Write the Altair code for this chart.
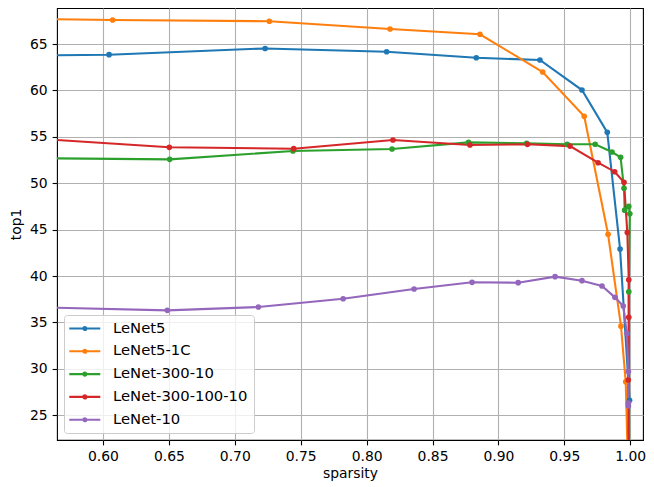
import altair as alt
import pandas as pd

series = ["LeNet5", "LeNet5-1C", "LeNet-300-10", "LeNet-300-100-10", "LeNet-10"]
colors = ["#1f77b4", "#ff7f0e", "#2ca02c", "#d62728", "#9467bd"]

lenet5_sparsity = [0.50, 0.6046, 0.723, 0.8152, 0.8832, 0.9315, 0.9634, 0.9826, 0.9923, 0.9995]
lenet5_top1 = [63.67, 63.85, 64.52, 64.17, 63.52, 63.28, 60.04, 55.48, 42.9, 26.6]

lenet5_1c_sparsity = [0.50, 0.6073, 0.7262, 0.8178, 0.886, 0.9336, 0.9651, 0.9832, 0.993, 0.9966, 1.0]
lenet5_1c_top1 = [67.77, 67.59, 67.45, 66.62, 66.05, 61.98, 57.21, 44.5, 34.6, 28.6, 10.0]

lenet300_10_sparsity = [0.50, 0.6506, 0.7441, 0.8193, 0.8773, 0.9214, 0.9522, 0.9734, 0.9862,
                        0.9927, 0.9953, 0.9958, 0.9989, 0.9997, 0.9989, 0.9995]
lenet300_10_top1 = [52.76, 52.57, 53.47, 53.69, 54.4, 54.3, 54.2, 54.2, 53.36,
                    52.79, 49.45, 47.1, 47.5, 46.7, 38.3, 10.0]

lenet300_100_10_sparsity = [0.50, 0.6503, 0.7447, 0.82, 0.8784, 0.922, 0.9543, 0.9756, 0.9882,
                            0.9953, 0.9978, 0.9989, 0.9989, 0.9985, 0.9992]
lenet300_100_10_top1 = [55.26, 53.87, 53.72, 54.66, 54.12, 54.19, 54.0, 52.21, 51.24,
                        50.1, 44.7, 39.6, 35.55, 28.8, 10.0]

lenet10_sparsity = [0.50, 0.6488, 0.7179, 0.7822, 0.836, 0.88, 0.915, 0.943, 0.9634, 0.9786,
                    0.9884, 0.9947, 0.9975, 0.9986, 0.9986, 0.9986]
lenet10_top1 = [36.8, 36.3, 36.66, 37.55, 38.6, 39.32, 39.28, 39.93, 39.5, 38.92,
                37.7, 36.77, 33.8, 29.7, 26.3, 26.0]

x_ticks = [0.60, 0.65, 0.70, 0.75, 0.80, 0.85, 0.90, 0.95, 1.00]
y_ticks = [25, 30, 35, 40, 45, 50, 55, 60, 65]

all_s = [lenet5_sparsity, lenet5_1c_sparsity, lenet300_10_sparsity, lenet300_100_10_sparsity, lenet10_sparsity]
all_t = [lenet5_top1, lenet5_1c_top1, lenet300_10_top1, lenet300_100_10_top1, lenet10_top1]

rows = []
for name, xs, ys in zip(series, all_s, all_t):
    for i, (x, y) in enumerate(zip(xs, ys)):
        rows.append({"model": name, "sparsity": x, "top1": y, "idx": i})
df = pd.DataFrame(rows)

legend_path = ("M-1.37,0L3.8,0"
               "M0.97,0A0.25,0.25 0 1,0 1.47,0A0.25,0.25 0 1,0 0.97,0"
               "M1.14,0A0.08,0.08 0 1,0 1.30,0A0.08,0.08 0 1,0 1.14,0")

FONT = "DejaVu Sans"

chart = alt.Chart(df).mark_line(
    strokeWidth=2.08, clip=True,
    point=alt.OverlayMarkDef(filled=True, size=32, clip=True, opacity=1),
).encode(
    x=alt.X("sparsity:Q",
            scale=alt.Scale(domain=[0.5651, 1.0097], nice=False, zero=False),
            axis=alt.Axis(values=x_ticks, format=".2f", title="sparsity")),
    y=alt.Y("top1:Q",
            scale=alt.Scale(domain=[22.33, 68.88], nice=False, zero=False),
            axis=alt.Axis(values=y_ticks, title="top1")),
    color=alt.Color("model:N",
                    scale=alt.Scale(domain=series, range=colors),
                    legend=alt.Legend(title=None, orient="bottom-left", offset=7,
                                      symbolType=legend_path, symbolSize=144,
                                      symbolStrokeWidth=2.08, labelOffset=28,
                                      padding=6, rowPadding=6.8,
                                      fillColor="rgba(255,255,255,0.8)",
                                      strokeColor="#cccccc", cornerRadius=3,
                                      labelFont=FONT, labelFontSize=14.8,
                                      labelColor="black", labelLimit=400)),
    order=alt.Order("idx:Q"),
).properties(
    width=586, height=432,
    padding={"left": 49, "top": 0, "right": 3, "bottom": 45},
    autosize=alt.AutoSizeParams(type="none"),
).configure_view(
    stroke="black", strokeWidth=1.1
).configure_axis(
    domain=False,
    grid=True, gridColor="#b0b0b0", gridWidth=1.1,
    ticks=True, tickColor="black", tickWidth=1.1, tickSize=4.9,
    labelFont=FONT, labelFontSize=13.9, labelColor="black", labelPadding=4.9,
    titleFont=FONT, titleFontSize=13.9, titleFontWeight="normal", titleColor="black",
    titlePadding=3,
).configure_axisY(
    titlePadding=6
)

chart.save("out.html", embed_options={"renderer": "svg", "actions": False})
